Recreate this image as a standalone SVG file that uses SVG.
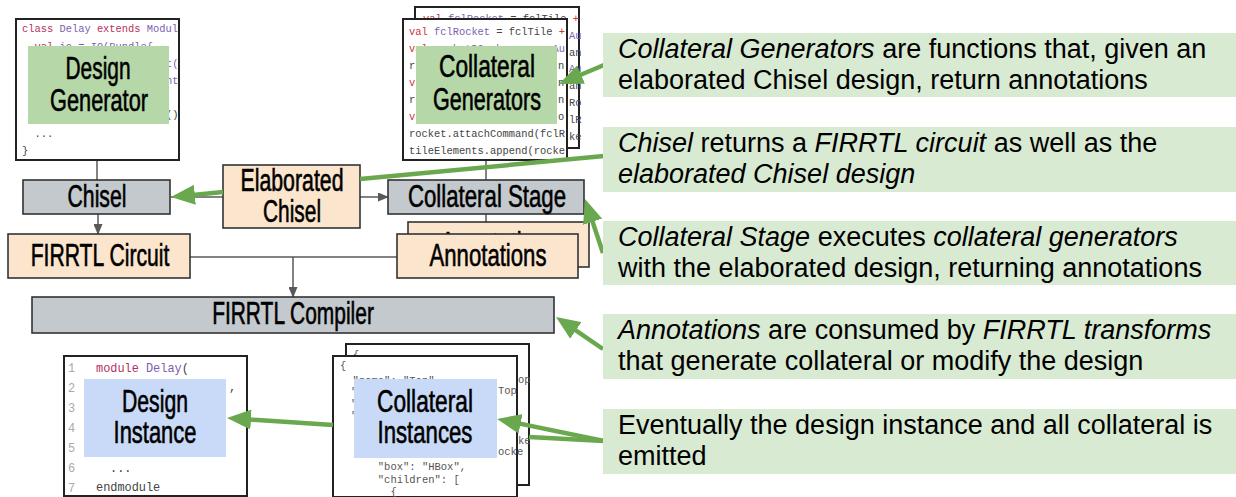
<svg xmlns="http://www.w3.org/2000/svg" width="1236" height="497" viewBox="0 0 1236 497">
<defs>
<marker id="ga" markerUnits="userSpaceOnUse" markerWidth="24" markerHeight="20" refX="12" refY="10" orient="auto"><path d="M0,0 L24,10 L0,20 z" fill="#6aa84f"/></marker>
<marker id="ka" markerUnits="userSpaceOnUse" markerWidth="11" markerHeight="9" refX="10" refY="4.5" orient="auto"><path d="M0,0 L11,4.5 L0,9 z" fill="#595959"/></marker>
</defs>
<style>
.box{stroke:#333;stroke-width:1.6}
.gray{fill:#c3c9cd}
.peach{fill:#fce5cd}
.code{fill:#fff;stroke:#222;stroke-width:2}
.gen{fill:#b6d7a8}
.inst{fill:#c9daf8}
.callout{fill:#d9ead3}
.lbl{font-family:"Liberation Sans",Arial,sans-serif;font-size:31px;fill:#000;stroke:#000;stroke-width:0.6;text-anchor:middle}
.ct{font-family:"Liberation Sans",Arial,sans-serif;font-size:27px;fill:#000}
.it{font-style:italic}
.mono{font-family:"Liberation Mono","DejaVu Sans Mono",monospace;font-size:10.4px;fill:#444;white-space:pre}
.kw{fill:#b5305e}
.ty{fill:#7c5fb0}
.rd{fill:#c9343a}
.json{font-family:"Liberation Mono","DejaVu Sans Mono",monospace;font-size:10.5px;fill:#555;white-space:pre}
.ln{font-family:"Liberation Mono","DejaVu Sans Mono",monospace;font-size:11.9px;fill:#aaa}
.vc{font-family:"Liberation Mono","DejaVu Sans Mono",monospace;font-size:11.9px;fill:#444}
.gl{stroke:#595959;stroke-width:1.5;fill:none}
.gline{stroke:#6aa84f;stroke-width:4.5;fill:none}
</style>
<rect width="1236" height="497" fill="#fff"/>

<g id="connectors">
<line class="gl" x1="97" y1="160" x2="97" y2="180"/>
<line class="gl" x1="486" y1="160" x2="486" y2="180"/>
<line class="gl" x1="98" y1="214" x2="98" y2="234" marker-end="url(#ka)"/>
<line class="gl" x1="223" y1="197" x2="171" y2="197"/>
<line class="gl" x1="360" y1="197" x2="388" y2="197" marker-end="url(#ka)"/>
<line class="gl" x1="486" y1="214" x2="486" y2="233" marker-end="url(#ka)"/>
<line class="gl" x1="190" y1="257" x2="397" y2="257"/>
<line class="gl" x1="293" y1="257" x2="293" y2="297" marker-end="url(#ka)"/>
</g>

<g id="design-generator">
<rect class="code" x="16" y="19" width="163" height="141"/>
<text class="mono" x="22" y="32"><tspan class="kw">class</tspan> <tspan class="ty">Delay</tspan> <tspan class="kw">extends</tspan> <tspan class="ty">Modul</tspan></text>
<text class="mono" x="34.5" y="50"><tspan class="kw">val</tspan> <tspan class="ty">io = IO(Bundle{</tspan></text>
<text class="mono ty" x="166" y="67">t(</text>
<text class="mono ty" x="166" y="84">nt</text>
<text class="mono" x="166" y="118">()</text>
<text class="mono" x="34.5" y="137">...</text>
<text class="mono" x="22" y="154">}</text>
<rect class="gen" x="28" y="46" width="141" height="78"/>
<text class="lbl" transform="translate(98,79) scale(0.674,1)">Design</text>
<text class="lbl" transform="translate(99,111) scale(0.702,1)">Generator</text>
</g>

<g id="collateral-generators">
<rect class="code" x="415" y="7" width="164" height="141"/>
<text class="mono" x="423" y="22"><tspan class="rd">val</tspan> <tspan class="ty">fclRocket</tspan> = fclTile <tspan class="rd">+</tspan></text>
<text class="mono ty" x="569" y="38.8">Au</text>
<text class="mono" x="569" y="55.6">an</text>
<text class="mono ty" x="569" y="72.4">Au</text>
<text class="mono" x="569" y="89.2">an</text>
<text class="mono" x="569" y="106">Ro</text>
<text class="mono" x="569" y="122.8">lR</text>
<text class="mono" x="569" y="139.6">ke</text>
<rect class="code" x="403" y="19" width="164" height="141"/>
<text class="mono" x="409" y="35"><tspan class="rd">val</tspan> <tspan class="ty">fclRocket</tspan> = fclTile <tspan class="rd">+</tspan></text>
<text class="mono" x="409" y="52"><tspan class="rd">val</tspan> <tspan class="ty">rocketDCache</tspan> = <tspan class="rd">new</tspan> <tspan class="ty">Au</tspan></text>
<text class="mono" x="409" y="69">r</text>
<text class="mono rd" x="409" y="86">v</text>
<text class="mono" x="409" y="103">r</text>
<text class="mono rd" x="409" y="120">v</text>
<text class="mono" x="558" y="69">n</text>
<text class="mono" x="558" y="86">n</text>
<text class="mono" x="558" y="103">n</text>
<text class="mono" x="558" y="120">o</text>
<text class="mono" x="409" y="137">rocket.attachCommand(fclR</text>
<text class="mono" x="409" y="153.5">tileElements.append(rocke</text>
<rect class="gen" x="416" y="46" width="141" height="78"/>
<text class="lbl" transform="translate(487,77) scale(0.733,1)">Collateral</text>
<text class="lbl" transform="translate(487,110) scale(0.696,1)">Generators</text>
</g>

<g id="chisel">
<rect class="box gray" x="23" y="180" width="147" height="34"/>
<text class="lbl" transform="translate(97,207) scale(0.685,1)">Chisel</text>
</g>

<g id="elaborated-chisel">
<rect class="box peach" x="223" y="165" width="137" height="63"/>
<text class="lbl" transform="translate(292,191) scale(0.687,1)">Elaborated</text>
<text class="lbl" transform="translate(292,222) scale(0.674,1)">Chisel</text>
</g>

<g id="collateral-stage">
<rect class="box gray" x="388" y="180" width="196" height="34"/>
<text class="lbl" transform="translate(487,207) scale(0.717,1)">Collateral Stage</text>
</g>

<g id="firrtl-circuit">
<rect class="box peach" x="8" y="234" width="182" height="44"/>
<text class="lbl" transform="translate(100,266) scale(0.683,1)">FIRRTL Circuit</text>
</g>

<g id="annotations">
<rect class="box peach" x="408" y="222" width="181" height="45"/>
<text class="lbl" transform="translate(499,254) scale(0.715,1)">Annotations</text>
<rect class="box peach" x="397" y="234" width="181" height="44"/>
<text class="lbl" transform="translate(488,266) scale(0.715,1)">Annotations</text>
</g>

<g id="firrtl-compiler">
<rect class="box gray" x="32" y="297" width="522" height="36"/>
<text class="lbl" transform="translate(293,324) scale(0.676,1)">FIRRTL Compiler</text>
</g>

<g id="design-instance">
<rect class="code" x="64" y="356" width="183" height="140"/>
<text class="ln" x="68" y="372">1</text>
<text class="ln" x="68" y="392">2</text>
<text class="ln" x="68" y="412">3</text>
<text class="ln" x="68" y="432">4</text>
<text class="ln" x="68" y="452">5</text>
<text class="ln" x="68" y="472">6</text>
<text class="ln" x="68" y="492">7</text>
<text class="vc" x="96" y="372"><tspan class="kw">module</tspan> <tspan class="ty">Delay</tspan>(</text>
<text class="vc" x="229" y="391">,</text>
<text class="vc" x="110" y="472">...</text>
<text class="vc kw" x="96" y="491">endmodule</text>
<rect class="inst" x="84" y="379" width="142" height="78"/>
<text class="lbl" transform="translate(155,412) scale(0.684,1)">Design</text>
<text class="lbl" transform="translate(155,443) scale(0.708,1)">Instance</text>
</g>

<g id="collateral-instances">
<rect class="code" x="346" y="344" width="183" height="141"/>
<text class="json" x="353" y="358">{</text>
<text class="json" x="518" y="383">op</text>
<text class="json" x="518" y="444">ke</text>
<rect class="code" x="333" y="356" width="184" height="141"/>
<text class="json" x="340" y="369">{</text>
<text class="json" x="352.6" y="384">"name": "Top",</text>
<text class="json" x="351" y="395">"</text>
<text class="json" x="351" y="407">"</text>
<text class="json" x="351" y="419">"</text>
<text class="json" x="498" y="394">Top</text>
<text class="json" x="498" y="455">ocke</text>
<text class="json" x="377.8" y="470">"box": "HBox",</text>
<text class="json" x="377.8" y="482.5">"children": [</text>
<text class="json" x="390.4" y="495">{</text>
<rect class="inst" x="354" y="379" width="143" height="79"/>
<text class="lbl" transform="translate(425,412) scale(0.733,1)">Collateral</text>
<text class="lbl" transform="translate(425,443) scale(0.716,1)">Instances</text>
</g>

<g id="callout-connectors">
<line class="gline" x1="604" y1="65" x2="570.1" y2="79.3" marker-end="url(#ga)"/>
<path class="gline" d="M604,156 L360,179.1 M223,192.1 L182.9,195.9" marker-end="url(#ga)"/>
<line class="gline" x1="603" y1="253" x2="588.8" y2="210.4" marker-end="url(#ga)"/>
<line class="gline" x1="603" y1="349" x2="565.9" y2="323.7" marker-end="url(#ga)"/>
<line class="gline" x1="604" y1="441" x2="508.8" y2="421.4" marker-end="url(#ga)"/>
<line class="gline" x1="604" y1="441" x2="529" y2="437"/>
<line class="gline" x1="333" y1="425" x2="239" y2="418.8" marker-end="url(#ga)"/>
</g>

<g id="callout-generators">
<rect class="callout" x="603" y="33" width="633" height="64"/>
<text class="ct" x="618" y="58"><tspan class="it">Collateral Generators</tspan> are functions that, given an</text>
<text class="ct" x="618" y="89">elaborated Chisel design, return annotations</text>
</g>
<g id="callout-chisel">
<rect class="callout" x="603" y="127" width="633" height="65"/>
<text class="ct" x="618" y="152"><tspan class="it">Chisel</tspan> returns a <tspan class="it">FIRRTL circuit</tspan> as well as the</text>
<text class="ct it" x="618" y="183">elaborated Chisel design</text>
</g>
<g id="callout-stage">
<rect class="callout" x="603" y="221" width="633" height="64"/>
<text class="ct" x="618" y="246"><tspan class="it">Collateral Stage</tspan> executes <tspan class="it">collateral generators</tspan></text>
<text class="ct" x="618" y="277">with the elaborated design, returning annotations</text>
</g>
<g id="callout-annotations">
<rect class="callout" x="603" y="314" width="633" height="65"/>
<text class="ct" x="618" y="339"><tspan class="it">Annotations</tspan> are consumed by <tspan class="it">FIRRTL transforms</tspan></text>
<text class="ct" x="618" y="370">that generate collateral or modify the design</text>
</g>
<g id="callout-emitted">
<rect class="callout" x="603" y="409" width="633" height="65"/>
<text class="ct" x="618" y="434">Eventually the design instance and all collateral is</text>
<text class="ct" x="618" y="465">emitted</text>
</g>
</svg>
